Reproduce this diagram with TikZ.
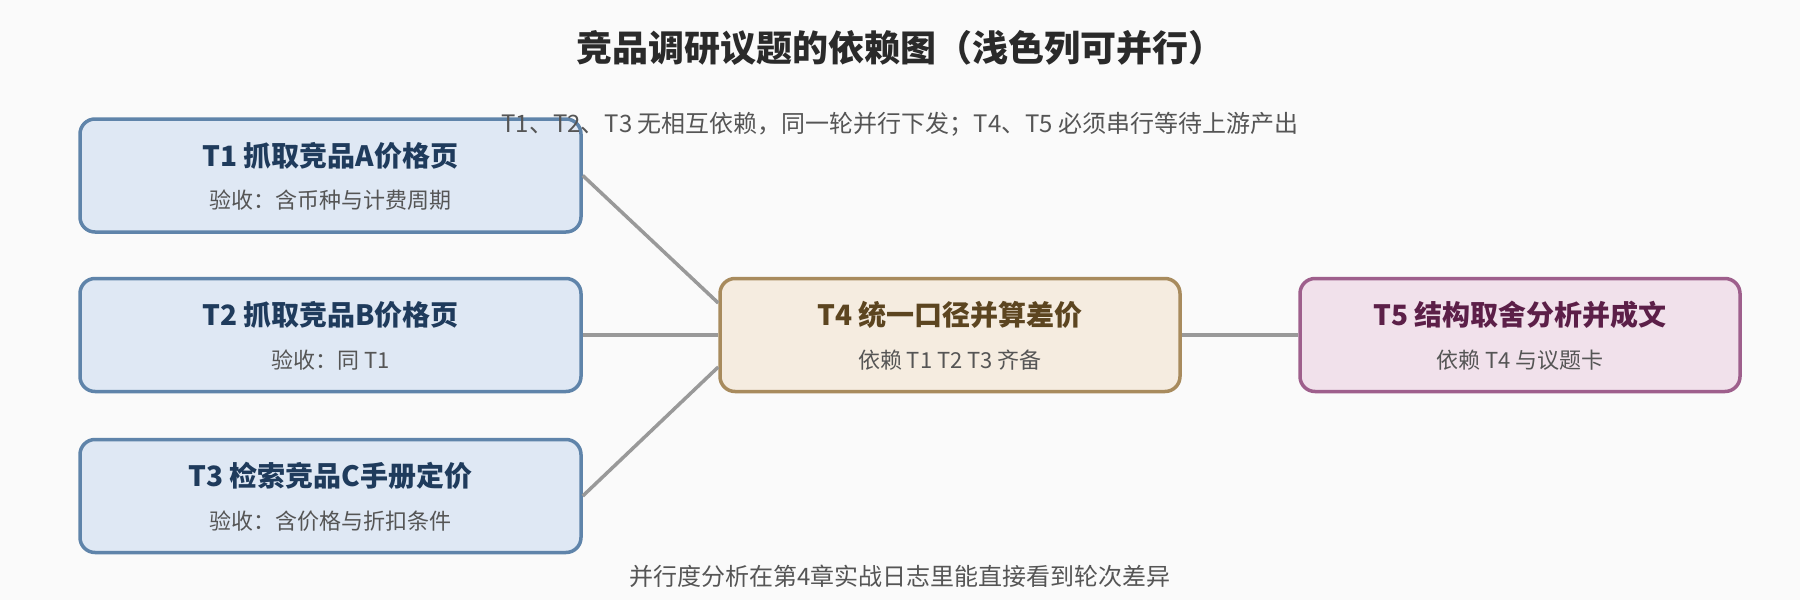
\documentclass[tikz,border=0pt]{standalone}
\usepackage{fontspec}
\setmainfont{Noto Sans CJK SC}

\definecolor{pageBg}{HTML}{FAFAFA}
\definecolor{edgeGray}{HTML}{999999}
\definecolor{noteGray}{HTML}{555555}
\definecolor{titleInk}{HTML}{2A2A2A}
\definecolor{parFill}{HTML}{DFE8F4}
\definecolor{parLine}{HTML}{5F84AA}
\definecolor{parInk}{HTML}{1F3B5C}
\definecolor{mergeFill}{HTML}{F5ECE0}
\definecolor{mergeLine}{HTML}{A88B5D}
\definecolor{mergeInk}{HTML}{5C4520}
\definecolor{finalFill}{HTML}{F1E1EB}
\definecolor{finalLine}{HTML}{9E5F8C}
\definecolor{finalInk}{HTML}{5C1F48}

\def \boxHeight {113pt}
\def \edgeWidth {3.5pt}

\tikzset{
  taskbox/.style={draw, rounded corners=15pt, line width=3.5pt, minimum height=\boxHeight, inner sep=0pt},
  partask/.style={taskbox, fill=parFill, draw=parLine, minimum width=501pt},
  headtext/.style={font=\fontsize{28}{33}\selectfont\bfseries, inner sep=0pt},
  subtext/.style={font=\fontsize{22}{26}\selectfont, text=noteGray, inner sep=0pt},
  dep/.style={draw=edgeGray, line width=\edgeWidth}
}

\begin{document}
\begin{tikzpicture}[x=1pt,y=-1pt]
  \fill[pageBg] (0,0) rectangle (1800,600);

  % tasks
  \node[partask] (t1) at (330.5,175.5) {};
  \node[partask] (t2) at (330.5,335) {};
  \node[partask] (t3) at (330.5,496) {};
  \node[taskbox, fill=mergeFill, draw=mergeLine, minimum width=460pt] (t4) at (950,335) {};
  \node[taskbox, fill=finalFill, draw=finalLine, minimum width=440pt] (t5) at (1520,335) {};

  % dependencies
  \draw[dep] (t1.east) -- ([yshift=32pt]t4.west);
  \draw[dep] (t2.east) -- (t4.west);
  \draw[dep] (t3.east) -- ([yshift=-32pt]t4.west);
  \draw[dep] (t4.east) -- (t5.west);

  % labels
  \node[headtext, text=parInk] (t1head) at ([yshift=20pt]t1.center) {T1 抓取竞品A价格页};
  \node[subtext] (t1sub) at ([yshift=-25pt]t1.center) {验收：含币种与计费周期};
  \node[headtext, text=parInk] (t2head) at ([yshift=20pt]t2.center) {T2 抓取竞品B价格页};
  \node[subtext] (t2sub) at ([yshift=-25pt]t2.center) {验收：同 T1};
  \node[headtext, text=parInk] (t3head) at ([yshift=20pt]t3.center) {T3 检索竞品C手册定价};
  \node[subtext] (t3sub) at ([yshift=-25pt]t3.center) {验收：含价格与折扣条件};
  \node[headtext, text=mergeInk] (t4head) at ([yshift=20pt]t4.center) {T4 统一口径并算差价};
  \node[subtext] (t4sub) at ([yshift=-25pt]t4.center) {依赖 T1 T2 T3 齐备};
  \node[headtext, text=finalInk] (t5head) at ([yshift=20pt]t5.center) {T5 结构取舍分析并成文};
  \node[subtext] (t5sub) at ([yshift=-25pt]t5.center) {依赖 T4 与议题卡};

  % title and notes
  \node[font=\fontsize{36}{42}\selectfont\bfseries, text=titleInk] (title) at (900,48) {竞品调研议题的依赖图（浅色列可并行）};
  \node[subtext, font=\fontsize{24}{28}\selectfont] (note) at (900,124) {T1、T2、T3 无相互依赖，同一轮并行下发；T4、T5 必须串行等待上游产出};
  \node[subtext, font=\fontsize{24}{28}\selectfont] (footer) at (900,576) {并行度分析在第4章实战日志里能直接看到轮次差异};
\end{tikzpicture}
\end{document}
